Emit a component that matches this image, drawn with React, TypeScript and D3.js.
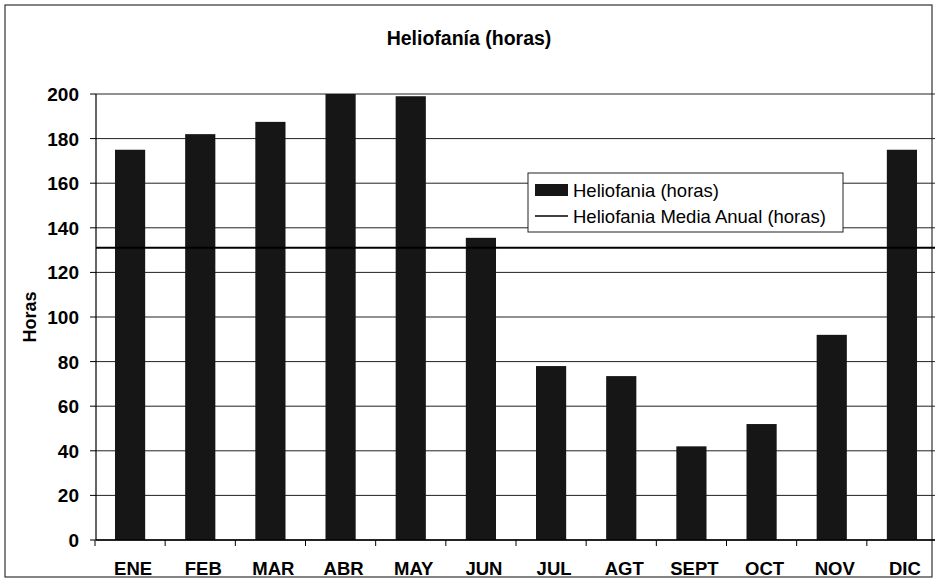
import React from "react";
import * as d3 from "d3";

const months = ["ENE", "FEB", "MAR", "ABR", "MAY", "JUN", "JUL", "AGT", "SEPT", "OCT", "NOV", "DIC"];
const horas = [175, 182, 187.5, 200, 199, 135.5, 78, 73.5, 42, 52, 92, 175];
const mediaAnual = 131;
const yTicks = [0, 20, 40, 60, 80, 100, 120, 140, 160, 180, 200];
const title = "Heliofanía (horas)";
const yLabel = "Horas";
const legendLabels = ["Heliofania (horas)", "Heliofania Media Anual (horas)"];

const W = 935;
const H = 580;
const left = 96;
const right = 937;
const top = 94;
const bottom = 540;
const FONT = "'Liberation Sans', Arial, sans-serif";

export default function App() {
  const x = d3.scaleBand<string>().domain(months).range([95, right]).paddingInner(0.57).paddingOuter(0.285);
  const y = d3.scaleLinear().domain([0, 200]).range([bottom, top]);
  const step = x.step();
  const bandStarts = months.map((m) => (x(m) as number) - step * 0.285);

  return (
    <svg
      width={W}
      height={H}
      style={{ position: "absolute", left: 0, top: 0, background: "#fff" }}
      fontFamily={FONT}
    >
      <rect x={0} y={0} width={W} height={H} fill="#fff" />
      {/* outer frame */}
      <rect x={5} y={5} width={927} height={572} fill="none" stroke="#333" strokeWidth={1.2} />
      {/* title */}
      <text x={469} y={45} textAnchor="middle" fontSize={19.5} fontWeight="bold" fill="#000">
        {title}
      </text>
      {/* gridlines */}
      {yTicks.map((t) => (
        <line key={"g" + t} x1={left} x2={W} y1={y(t)} y2={y(t)} stroke="#222" strokeWidth={1} />
      ))}
      {/* bars */}
      {months.map((m, i) => (
        <rect
          key={m}
          x={x(m)}
          y={y(horas[i])}
          width={x.bandwidth()}
          height={y(0) - y(horas[i])}
          fill="#161616"
        />
      ))}
      {/* mean line */}
      <line x1={left} x2={W} y1={y(mediaAnual)} y2={y(mediaAnual)} stroke="#000" strokeWidth={2} />
      {/* y axis */}
      <line x1={left} x2={left} y1={top} y2={bottom} stroke="#000" strokeWidth={1.2} />
      {yTicks.map((t) => (
        <g key={"t" + t}>
          <line x1={left - 6} x2={left} y1={y(t)} y2={y(t)} stroke="#000" strokeWidth={1} />
          <text x={79} y={y(t) + 7} textAnchor="end" fontSize={19} fontWeight="bold" fill="#000">
            {t}
          </text>
        </g>
      ))}
      {/* x axis */}
      <line x1={left} x2={W} y1={bottom} y2={bottom} stroke="#000" strokeWidth={1.5} />
      {bandStarts.map((b, i) => (
        <line key={"xt" + i} x1={b} x2={b} y1={bottom} y2={bottom + 6} stroke="#000" strokeWidth={1} />
      ))}
      {months.map((m) => (
        <text
          key={"xl" + m}
          x={(x(m) as number) + x.bandwidth() / 2 + 3}
          y={575}
          textAnchor="middle"
          fontSize={18.5}
          fontWeight="bold"
          fill="#000"
        >
          {m}
        </text>
      ))}
      {/* y label */}
      <text
        transform={`translate(36, ${y(100)}) rotate(-90)`}
        textAnchor="middle"
        fontSize={18}
        fontWeight="bold"
        fill="#000"
      >
        {yLabel}
      </text>
      {/* legend */}
      <g>
        <rect x={528} y={173} width={315} height={59} fill="#fff" stroke="#222" strokeWidth={1} />
        <rect x={535} y={184} width={33} height={12} fill="#161616" />
        <text x={573} y={197} fontSize={18.5} fill="#000">
          {legendLabels[0]}
        </text>
        <line x1={535} x2={568} y1={216} y2={216} stroke="#000" strokeWidth={1.5} />
        <text x={573} y={223} fontSize={18.5} fill="#000">
          {legendLabels[1]}
        </text>
      </g>
    </svg>
  );
}
